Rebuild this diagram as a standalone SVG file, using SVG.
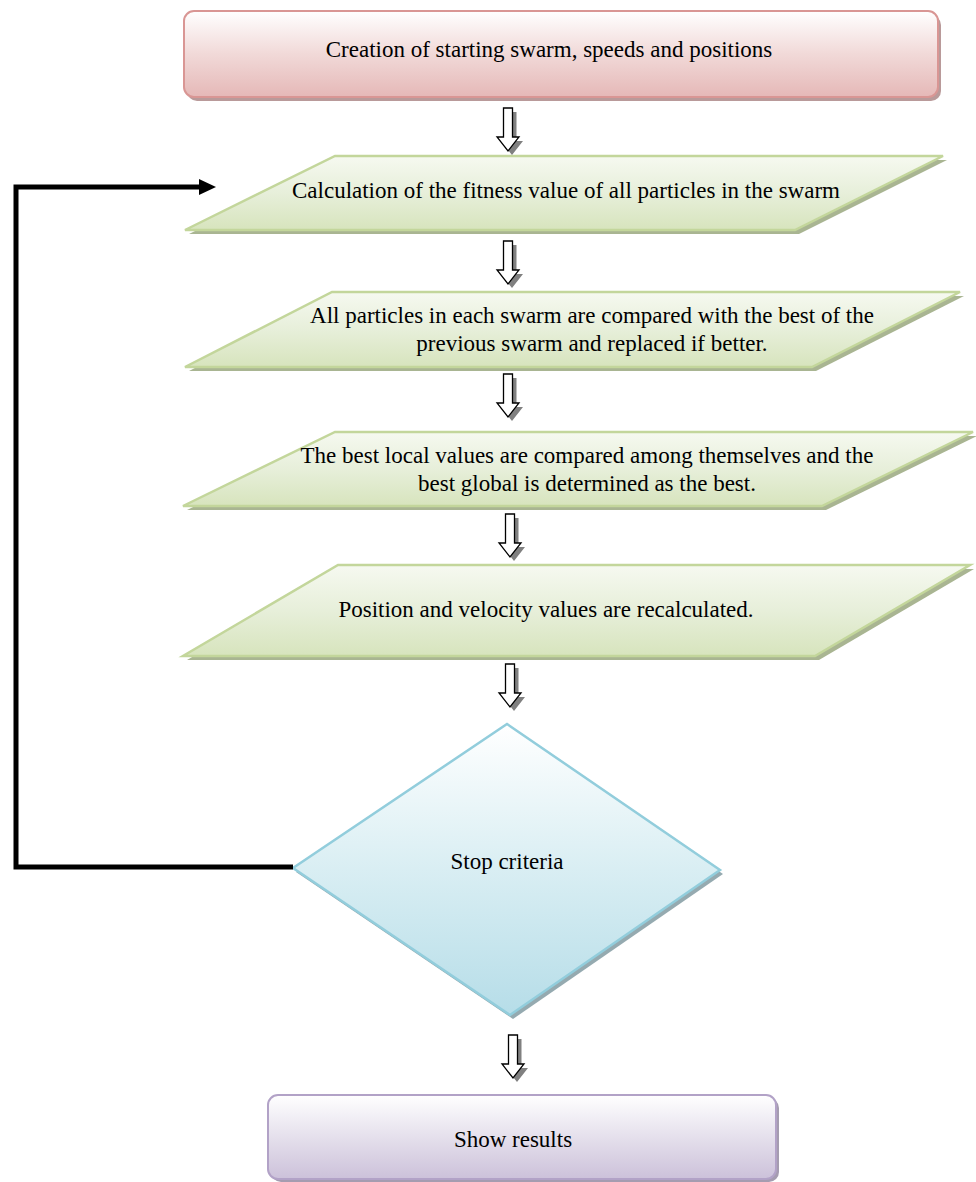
<svg xmlns="http://www.w3.org/2000/svg" xmlns:xlink="http://www.w3.org/1999/xlink" width="976" height="1182" viewBox="0 0 976 1182">
<style>
  .t { font-family: "Liberation Serif", "Times New Roman", serif; font-size: 23px; fill: #000; text-anchor: middle; }
  .pink { fill: url(#gPink); stroke: #d99694; stroke-width: 2; }
  .pinkSh { fill: #b99a9a; }
  .green { fill: url(#gGreen); stroke: #c3d69b; stroke-width: 2.5; }
  .greenSh { fill: #a9b592; }
  .blue { fill: url(#gBlue); stroke: #92cddc; stroke-width: 2.5; }
  .blueSh { fill: #95aab0; }
  .purple { fill: url(#gPurple); stroke: #b2a2c7; stroke-width: 2; }
  .purpleSh { fill: #a59cb0; }
  .loop { fill: none; stroke: #000; stroke-width: 5; stroke-linejoin: miter; }
</style>
<defs>
  <linearGradient id="gPink" x1="0" y1="0" x2="0" y2="1">
    <stop offset="0" stop-color="#ffffff"/>
    <stop offset="0.5" stop-color="#f1d9d8"/>
    <stop offset="1" stop-color="#e5b8b7"/>
  </linearGradient>
  <linearGradient id="gGreen" x1="0" y1="0" x2="0" y2="1">
    <stop offset="0" stop-color="#f6f9f0"/>
    <stop offset="0.5" stop-color="#e7efda"/>
    <stop offset="1" stop-color="#d7e4bd"/>
  </linearGradient>
  <linearGradient id="gBlue" x1="0" y1="0" x2="0" y2="1">
    <stop offset="0" stop-color="#ffffff"/>
    <stop offset="0.5" stop-color="#d9eef3"/>
    <stop offset="1" stop-color="#b6dde8"/>
  </linearGradient>
  <linearGradient id="gPurple" x1="0" y1="0" x2="0" y2="1">
    <stop offset="0" stop-color="#ffffff"/>
    <stop offset="0.5" stop-color="#e5e0ec"/>
    <stop offset="1" stop-color="#ccc1da"/>
  </linearGradient>
  <g id="blockArrow">
    <path d="M-4.5,0 H4.5 V29 H11 L0,43 L-11,29 H-4.5 Z" fill="#808080" transform="translate(4,4)"/>
    <path d="M-4.5,0 H4.5 V29 H11 L0,43 L-11,29 H-4.5 Z" fill="#ffffff" stroke="#000" stroke-width="1.3" stroke-linejoin="miter"/>
  </g>
  <marker id="loopHead" markerUnits="userSpaceOnUse" markerWidth="18" markerHeight="18" refX="0" refY="9" orient="auto">
    <path d="M0,1 L17,9 L0,17 Z" fill="#000"/>
  </marker>
</defs>

<g id="node-start">
  <rect class="pinkSh" x="187" y="15" width="754" height="86" rx="10"/>
  <rect class="pink" x="184" y="11" width="754" height="86" rx="10"/>
  <text class="t" x="549" y="57">Creation of starting swarm, speeds and positions</text>
</g>

<g id="node-fitness">
  <polygon class="greenSh" points="339,160 947,160 799,234 189,234"/>
  <polygon class="green" points="335,156 943,156 795,230 185,230"/>
  <text class="t" x="566" y="198">Calculation of the fitness value of all particles in the swarm</text>
</g>

<g id="node-compare">
  <polygon class="greenSh" points="336,296 964,296 816,371 189,371"/>
  <polygon class="green" points="332,292 960,292 812,367 185,367"/>
  <text class="t" x="592" y="323">All particles in each swarm are compared with the best of the</text>
  <text class="t" x="592" y="351">previous swarm and replaced if better.</text>
</g>

<g id="node-global">
  <polygon class="greenSh" points="339,436 977,436 826,510 187,510"/>
  <polygon class="green" points="335,432 973,432 822,506 183,506"/>
  <text class="t" x="587" y="463">The best local values are compared among themselves and the</text>
  <text class="t" x="587" y="491">best global is determined as the best.</text>
</g>

<g id="node-update">
  <polygon class="greenSh" points="342,569 974,569 819,660 187,660"/>
  <polygon class="green" points="338,565 970,565 815,656 183,656"/>
  <text class="t" x="546" y="617">Position and velocity values are recalculated.</text>
</g>

<g id="node-stop">
  <polygon class="blueSh" points="510,728 723,874 513,1019 296,872"/>
  <polygon class="blue" points="507,724 720,870 510,1015 293,868"/>
  <text class="t" x="507" y="869">Stop criteria</text>
</g>

<g id="node-results">
  <rect class="purpleSh" x="271" y="1098" width="508" height="84" rx="10"/>
  <rect class="purple" x="268" y="1095" width="508" height="84" rx="10"/>
  <text class="t" x="513" y="1147">Show results</text>
</g>

<g id="connectors">
  <use xlink:href="#blockArrow" transform="translate(508,108)"/>
  <use xlink:href="#blockArrow" transform="translate(508,241)"/>
  <use xlink:href="#blockArrow" transform="translate(508,374)"/>
  <use xlink:href="#blockArrow" transform="translate(510,514)"/>
  <use xlink:href="#blockArrow" transform="translate(510,664)"/>
  <use xlink:href="#blockArrow" transform="translate(513,1035)"/>
  <polyline class="loop" points="293,867 16,867 16,187 199,187" marker-end="url(#loopHead)"/>
</g>
</svg>
